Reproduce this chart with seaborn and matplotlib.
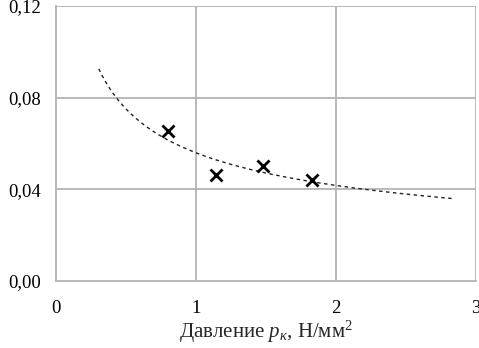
import matplotlib
matplotlib.use("Agg")
import matplotlib.pyplot as plt
import numpy as np
import pandas as pd
import seaborn as sns

# measured points
pressure = [0.80, 1.14, 1.48, 1.83]
value = [0.0654, 0.0461, 0.0503, 0.0438]

# power trendline range (as drawn)
trend_start = 0.305
trend_end = 2.83

x_ticks = [0, 1, 2, 3]
x_tick_labels = ["0", "1", "2", "3"]
y_ticks = [0.00, 0.04, 0.08, 0.12]
y_tick_labels = ["0,00", "0,04", "0,08", "0,12"]

sns.set_style("white")
plt.rcParams["font.family"] = ["Liberation Serif", "DejaVu Serif"]
plt.rcParams["mathtext.fontset"] = "custom"
plt.rcParams["mathtext.rm"] = "Liberation Serif"
plt.rcParams["mathtext.it"] = "Liberation Serif:italic"

df = pd.DataFrame({"p": pressure, "v": value})

# power fit y = a * x^b, like the spreadsheet trendline
b, ln_a = np.polyfit(np.log(df["p"]), np.log(df["v"]), 1)
xs = np.linspace(trend_start, trend_end, 200)
trend = pd.DataFrame({"p": xs, "v": np.exp(ln_a) * xs ** b})

fig, ax = plt.subplots(figsize=(4.79, 3.48), dpi=100)
fig.subplots_adjust(left=0.117, right=0.994, top=0.983, bottom=0.193)

grid_color = "#b3b3b3"
for x in x_ticks[1:]:
    ax.axvline(x, color=grid_color, lw=1.3, zorder=0)
for y in y_ticks[1:]:
    ax.axhline(y, color=grid_color, lw=1.3, zorder=0)

sns.lineplot(data=trend, x="p", y="v", ax=ax, color="#222222", lw=1.0,
             linestyle=(0, (2.5, 2.5)), zorder=2)
sns.scatterplot(data=df, x="p", y="v", ax=ax, marker="x", s=75,
                color="black", linewidth=2.0, zorder=3)

ax.set_xlim(0, 3)
ax.set_ylim(0, 0.12)
ax.set_xticks(x_ticks)
ax.set_xticklabels(x_tick_labels)
ax.set_yticks(y_ticks)
ax.set_yticklabels(y_tick_labels)
ax.tick_params(axis="both", length=0, labelsize=13.5, colors="black")
ax.tick_params(axis="x", pad=14)
ax.tick_params(axis="y", pad=11)

for side in ["left", "bottom"]:
    ax.spines[side].set_color(grid_color)
    ax.spines[side].set_linewidth(1.3)
for side in ["top", "right"]:
    ax.spines[side].set_visible(False)

ax.set_xlabel("Давление $p_{к}$, Н/мм$^2$", fontsize=15, labelpad=1)
ax.set_ylabel("")

fig.savefig("out.png", dpi=100)
plt.close(fig)
